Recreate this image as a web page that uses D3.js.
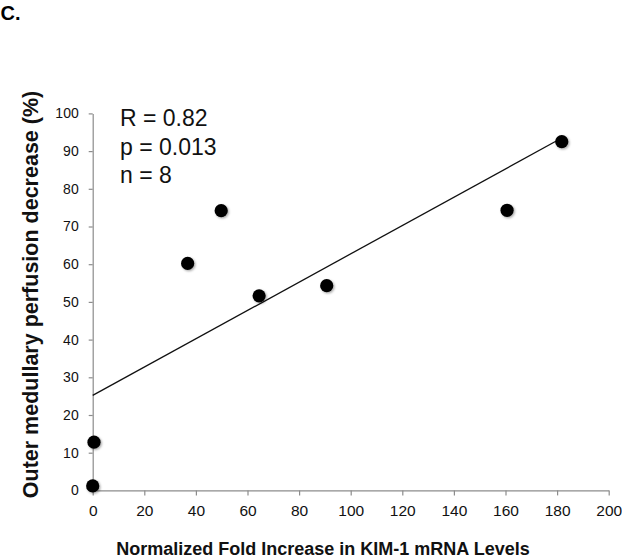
<!DOCTYPE html>
<html>
<head>
<meta charset="utf-8">
<script src="https://cdn.jsdelivr.net/npm/d3@7"></script>
<style>
  html, body { margin: 0; padding: 0; background: #fff; }
  svg { display: block; font-family: "Liberation Sans", Arial, Helvetica, sans-serif; }
</style>
</head>
<body>
<svg id="chart" width="622" height="558"></svg>
<script>
// ---- data ----
const kimFold = [0, 0.5, 36.8, 49.8, 64.5, 90.7, 160.6, 181.8];
const perfusionDecrease = [1.2, 12.8, 60.2, 74.2, 51.6, 54.3, 74.3, 92.5];
const xTicks = [0, 20, 40, 60, 80, 100, 120, 140, 160, 180, 200];
const yTicks = [0, 10, 20, 30, 40, 50, 60, 70, 80, 90, 100];
const statsLines = ["R = 0.82", "p = 0.013", "n = 8"];
const panelLabel = "C.";
const xTitle = "Normalized Fold Increase in KIM-1 mRNA Levels";
const yTitle = "Outer medullary perfusion decrease (%)";

// ---- layout ----
const svg = d3.select("#chart");
const plotLeft = 92.7, plotRight = 608.7, plotTop = 113.4, plotBottom = 490.4;
const x = d3.scaleLinear().domain([0, 200]).range([plotLeft, plotRight]);
const y = d3.scaleLinear().domain([0, 100]).range([plotBottom, plotTop]);

const defs = svg.append("defs");
const f = defs.append("filter").attr("id", "shadow").attr("x", "-50%").attr("y", "-50%").attr("width", "200%").attr("height", "200%");
f.append("feDropShadow").attr("dx", 1.2).attr("dy", 1.2).attr("stdDeviation", 1.1)
  .attr("flood-color", "#000").attr("flood-opacity", 0.35);

// panel label
svg.append("text").attr("x", 0.5).attr("y", 19.5)
  .attr("font-size", 20).attr("font-weight", "bold").attr("fill", "#000").text(panelLabel);

// axes
const axisColor = "#8c8c8c";
const xAxis = svg.append("g").attr("transform", `translate(0,${plotBottom})`)
  .call(d3.axisBottom(x).tickValues(xTicks).tickSize(5).tickSizeOuter(0).tickPadding(10));
const yAxis = svg.append("g").attr("transform", `translate(${plotLeft},0)`)
  .call(d3.axisLeft(y).tickValues(yTicks).tickSize(4).tickSizeOuter(0).tickPadding(10));
[xAxis, yAxis].forEach(g => {
  g.select(".domain").attr("stroke", axisColor).attr("stroke-width", 1.2);
  g.selectAll(".tick line").attr("stroke", axisColor).attr("stroke-width", 1.2);
  g.selectAll(".tick text").attr("fill", "#111")
    .attr("font-family", "Liberation Sans, Arial, sans-serif");
});
xAxis.selectAll(".tick text").attr("font-size", 15.5);
yAxis.selectAll(".tick text").attr("font-size", 14);

// regression line (least squares from data)
const n = kimFold.length;
const mx = d3.mean(kimFold), my = d3.mean(perfusionDecrease);
let sxy = 0, sxx = 0;
for (let i = 0; i < n; i++) {
  sxy += (kimFold[i] - mx) * (perfusionDecrease[i] - my);
  sxx += (kimFold[i] - mx) ** 2;
}
const slope = sxy / sxx, intercept = my - slope * mx;
const x0 = 0, x1 = d3.max(kimFold);
svg.append("line")
  .attr("x1", x(x0)).attr("y1", y(intercept + slope * x0))
  .attr("x2", x(x1)).attr("y2", y(intercept + slope * x1))
  .attr("stroke", "#111").attr("stroke-width", 1.3);

// points
svg.append("g").selectAll("circle")
  .data(d3.zip(kimFold, perfusionDecrease))
  .join("circle")
  .attr("cx", d => x(d[0])).attr("cy", d => y(d[1]))
  .attr("r", 6.6).attr("fill", "#000").attr("filter", "url(#shadow)");

// stats annotation
svg.append("g").selectAll("text").data(statsLines).join("text")
  .attr("x", 120).attr("y", (d, i) => 126 + i * 28.5)
  .attr("font-size", 23).attr("fill", "#111").text(d => d);

// axis titles
svg.append("text").attr("x", 323).attr("y", 555)
  .attr("text-anchor", "middle").attr("font-size", 18).attr("font-weight", "bold")
  .attr("fill", "#111").text(xTitle);
svg.append("text")
  .attr("transform", `translate(38,${(90 + 499) / 2}) rotate(-90)`)
  .attr("text-anchor", "middle").attr("font-size", 21.5).attr("font-weight", "bold")
  .attr("fill", "#111").text(yTitle);
</script>
</body>
</html>
